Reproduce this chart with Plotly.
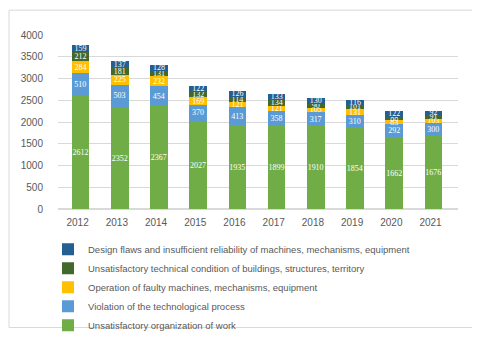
import plotly.graph_objects as go

years = ["2012", "2013", "2014", "2015", "2016", "2017", "2018", "2019", "2020", "2021"]
organization = [2612, 2352, 2367, 2027, 1935, 1899, 1910, 1854, 1662, 1676]
violation = [510, 503, 454, 370, 413, 358, 317, 310, 292, 300]
faulty = [284, 225, 232, 169, 121, 121, 105, 131, 83, 103]
tech_condition = [212, 181, 131, 132, 114, 134, 90, 101, 88, 91]
design_flaws = [159, 137, 128, 122, 126, 133, 130, 116, 122, 92]

series = [
    ("Unsatisfactory organization of work", organization, "#70AD47"),
    ("Violation of the technological process", violation, "#5B9BD5"),
    ("Operation of faulty machines, mechanisms, equipment", faulty, "#FFC000"),
    ("Unsatisfactory technical condition of buildings, structures, territory", tech_condition, "#43682B"),
    ("Design flaws and insufficient reliability of machines, mechanisms, equipment", design_flaws, "#255E91"),
]

fig = go.Figure()
for i, (name, vals, color) in enumerate(series):
    fig.add_trace(go.Bar(
        x=list(range(len(years))), y=vals, name=name,
        marker=dict(color=color, line=dict(width=0)),
        width=0.45, offset=-0.15,
        text=[str(v) for v in vals], textposition="inside", textangle=0,
        insidetextanchor="middle", constraintext="none",
        textfont=dict(family="Liberation Serif", size=9 if i < 2 else 8, color="white"),
    ))

W, H = 480, 344
L, R, T, B = 50, 30, 27, 135
pw = W - L - R
ph = H - T - B

def px_x(x):
    return (x - L) / pw

def px_y(y):
    return (H - B - y) / ph

fig.update_layout(
    width=W, height=H,
    margin=dict(l=L, r=R, t=T, b=B),
    barmode="stack",
    paper_bgcolor="white", plot_bgcolor="white",
    uniformtext=dict(minsize=6, mode="show"),
    font=dict(family="Liberation Sans", size=10, color="#595959"),
    xaxis=dict(
        tickmode="array", tickvals=list(range(len(years))), ticktext=years,
        range=[-0.5, 9.7], showgrid=False, zeroline=False, showline=False,
        tickfont=dict(size=10, color="#595959"), ticklabelstandoff=6,
    ),
    yaxis=dict(
        range=[0, 4000], dtick=500, showgrid=True, gridcolor="#D9D9D9",
        zeroline=True, zerolinecolor="#D9D9D9", showline=False,
        tickfont=dict(size=10, color="#595959"), ticks="", ticklabelstandoff=14,
    ),
    legend=dict(
        orientation="v", traceorder="reversed",
        x=px_x(40), xanchor="left", y=px_y(236), yanchor="top",
        font=dict(size=9.5, color="#595959"),
        tracegroupgap=0, itemwidth=30,
        bgcolor="rgba(0,0,0,0)",
    ),
    showlegend=True,
    shapes=[dict(
        type="rect", xref="paper", yref="paper",
        x0=px_x(1), x1=px_x(477), y0=px_y(333), y1=px_y(1),
        line=dict(color="#D9D9D9", width=1), fillcolor="rgba(0,0,0,0)", layer="below",
    )],
)

fig.write_html("out.html")
